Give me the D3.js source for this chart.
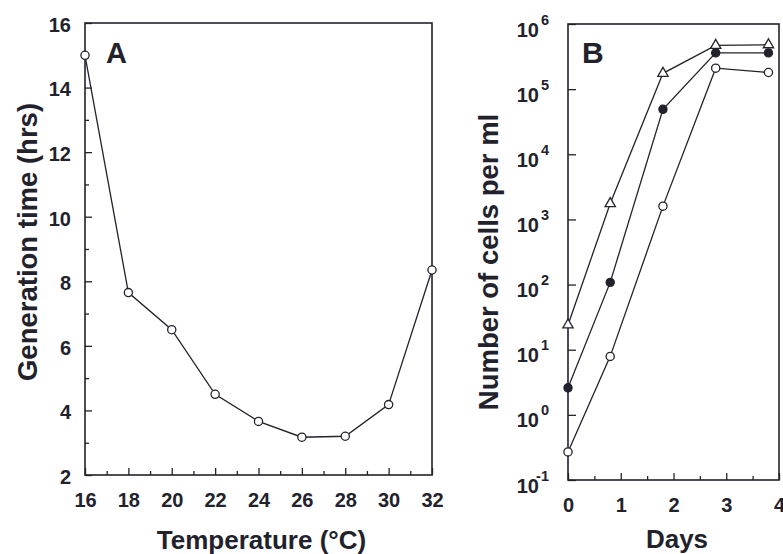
<!DOCTYPE html>
<html>
<head>
<meta charset="utf-8">
<script src="https://cdn.jsdelivr.net/npm/d3@7"></script>
<style>
  body { margin: 0; background: #fff; }
  svg { display: block; font-family: "Liberation Sans", Arial, Helvetica, sans-serif; }
  .tick text { font-weight: bold; fill: #22222c; }
</style>
</head>
<body>
<svg id="chart" width="783" height="554"></svg>
<script>
// Panel A: generation time vs temperature
const temps = [16, 18, 20, 22, 24, 26, 28, 30, 32];
const genTime = [15.0, 7.65, 6.5, 4.5, 3.66, 3.17, 3.2, 4.18, 8.35];
const tempTicks = [16, 18, 20, 22, 24, 26, 28, 30, 32];
const genTicks = [2, 4, 6, 8, 10, 12, 14, 16];

// Panel B: growth curves (cells per ml)
const days = [0, 0.8, 1.8, 2.8, 3.8];
const seriesTriangle = [24, 1750, 1.75e5, 4.7e5, 4.8e5];
const seriesFilled = [2.6, 108, 4.9e4, 3.6e5, 3.6e5];
const seriesOpen = [0.27, 7.9, 1600, 2.1e5, 1.8e5];
const dayTicks = [0, 1, 2, 3, 4];
const decadeTicks = [-1, 0, 1, 2, 3, 4, 5, 6];

const ink = "#22222c";
const svg = d3.select("#chart");

// ---------- Panel A ----------
const xA = d3.scaleLinear().domain([16, 32]).range([85, 432]);
const yA = d3.scaleLinear().domain([2, 16]).range([475, 23]);

const gA = svg.append("g");

gA.append("g")
    .attr("transform", "translate(0," + yA(2) + ")")
    .call(d3.axisBottom(xA).tickValues(d3.range(17, 32, 2)).tickSize(-4).tickFormat(""))
gA.append("g")
    .attr("class", "axA-x")
    .attr("transform", "translate(0," + yA(2) + ")")
    .call(d3.axisBottom(xA).tickValues(tempTicks).tickSize(-7).tickPadding(18).tickFormat(d3.format("d")))
gA.append("g")
    .attr("transform", "translate(" + xA(16) + ",0)")
    .call(d3.axisLeft(yA).tickValues(d3.range(3, 16, 2)).tickSize(-4).tickFormat(""))
gA.append("g")
    .attr("class", "axA-y")
    .attr("transform", "translate(" + xA(16) + ",0)")
    .call(d3.axisLeft(yA).tickValues(genTicks).tickSize(-7).tickPadding(14).tickFormat(d3.format("d")))

gA.selectAll(".domain").remove();
gA.selectAll(".tick line").attr("stroke", ink).attr("stroke-width", 1.3);
gA.selectAll(".tick text").style("font-size", "20px");
gA.selectAll(".axA-y .tick text").attr("dy", "0.42em");

gA.append("rect")
    .attr("x", xA(16)).attr("y", yA(16))
    .attr("width", xA(32) - xA(16)).attr("height", yA(2) - yA(16))
    .attr("fill", "none").attr("stroke", ink).attr("stroke-width", 1.6);

const lineA = d3.line().x((d, i) => xA(temps[i])).y(d => yA(d));
gA.append("path")
    .attr("d", lineA(genTime))
    .attr("fill", "none").attr("stroke", ink).attr("stroke-width", 1.3);

gA.selectAll("circle.pt")
    .data(genTime)
    .enter().append("circle")
        .attr("class", "pt")
        .attr("cx", (d, i) => xA(temps[i]))
        .attr("cy", d => yA(d))
        .attr("r", 4.1)
        .attr("fill", "#fff").attr("stroke", ink).attr("stroke-width", 1.3);

gA.append("text")
    .attr("x", 106).attr("y", 63)
    .style("font-size", "29px").style("font-weight", "bold")
    .attr("fill", ink)
    .text("A");

gA.append("text")
    .attr("x", (xA(16) + xA(32)) / 2 + 3).attr("y", 549)
    .attr("text-anchor", "middle")
    .style("font-size", "26px").style("font-weight", "bold")
    .attr("fill", ink)
    .text("Temperature (°C)");

gA.append("text")
    .attr("transform", "translate(37," + 242 + ") rotate(-90)")
    .attr("text-anchor", "middle")
    .style("font-size", "27.5px").style("font-weight", "bold")
    .attr("fill", ink)
    .text("Generation time (hrs)");

// ---------- Panel B ----------
const xB = d3.scaleLinear().domain([0, 4]).range([568, 779]);
const yB = d3.scaleLog().domain([0.1, 1e6]).range([480, 24]);

const gB = svg.append("g");

gB.append("g")
    .attr("transform", "translate(0," + yB(0.1) + ")")
    .call(d3.axisBottom(xB).tickValues([0.5, 1.5, 2.5, 3.5]).tickSize(-4).tickFormat(""))
gB.append("g")
    .attr("transform", "translate(0," + yB(0.1) + ")")
    .call(d3.axisBottom(xB).tickValues(dayTicks).tickSize(-7).tickPadding(18).tickFormat(d3.format("d")))

const yAxisB = gB.append("g")
    .attr("transform", "translate(" + xB(0) + ",0)")
    .call(d3.axisLeft(yB).tickValues(decadeTicks.map(e => Math.pow(10, e))).tickSize(-8).tickFormat(""))

gB.selectAll(".domain").remove();
gB.selectAll(".tick line").attr("stroke", ink).attr("stroke-width", 1.3);
gB.selectAll(".tick text").style("font-size", "20px");

yAxisB.selectAll(".tick").each(function(d, i) {
    var t = d3.select(this);
    t.append("text")
        .attr("x", -29).attr("y", 12)
        .attr("text-anchor", "end")
        .style("font-size", "20px").style("font-weight", "bold")
        .attr("fill", ink)
        .text("10");
    t.append("text")
        .attr("x", -19).attr("y", 0)
        .style("font-size", "14.5px")
        .attr("fill", ink)
        .text(decadeTicks[i] < 0 ? "-" + Math.abs(decadeTicks[i]) : decadeTicks[i]);
});

gB.append("rect")
    .attr("x", xB(0)).attr("y", yB(1e6))
    .attr("width", xB(4) - xB(0)).attr("height", yB(0.1) - yB(1e6))
    .attr("fill", "none").attr("stroke", ink).attr("stroke-width", 1.6);

const lineB = d3.line().x((d, i) => xB(days[i])).y(d => yB(d));
[seriesTriangle, seriesFilled, seriesOpen].forEach(function(s) {
    gB.append("path")
        .attr("d", lineB(s))
        .attr("fill", "none").attr("stroke", ink).attr("stroke-width", 1.3);
});

gB.selectAll("path.tri")
    .data(seriesTriangle)
    .enter().append("path")
        .attr("class", "tri")
        .attr("transform", (d, i) => "translate(" + xB(days[i]) + "," + yB(d) + ")")
        .attr("d", d3.symbol().type(d3.symbolTriangle).size(46))
        .attr("fill", "#fff").attr("stroke", ink).attr("stroke-width", 1.3);

gB.selectAll("circle.filled")
    .data(seriesFilled)
    .enter().append("circle")
        .attr("class", "filled")
        .attr("cx", (d, i) => xB(days[i]))
        .attr("cy", d => yB(d))
        .attr("r", 4.1)
        .attr("fill", ink).attr("stroke", ink).attr("stroke-width", 1.2);

gB.selectAll("circle.open")
    .data(seriesOpen)
    .enter().append("circle")
        .attr("class", "open")
        .attr("cx", (d, i) => xB(days[i]))
        .attr("cy", d => yB(d))
        .attr("r", 4.1)
        .attr("fill", "#fff").attr("stroke", ink).attr("stroke-width", 1.3);

gB.append("text")
    .attr("x", 582).attr("y", 63)
    .style("font-size", "30px").style("font-weight", "bold")
    .attr("fill", ink)
    .text("B");

gB.append("text")
    .attr("x", 677).attr("y", 548)
    .attr("text-anchor", "middle")
    .style("font-size", "26px").style("font-weight", "bold")
    .attr("fill", ink)
    .text("Days");

gB.append("text")
    .attr("transform", "translate(498," + 262 + ") rotate(-90)")
    .attr("text-anchor", "middle")
    .style("font-size", "27.5px").style("font-weight", "bold")
    .attr("fill", ink)
    .text("Number of cells per ml");
</script>
</body>
</html>
